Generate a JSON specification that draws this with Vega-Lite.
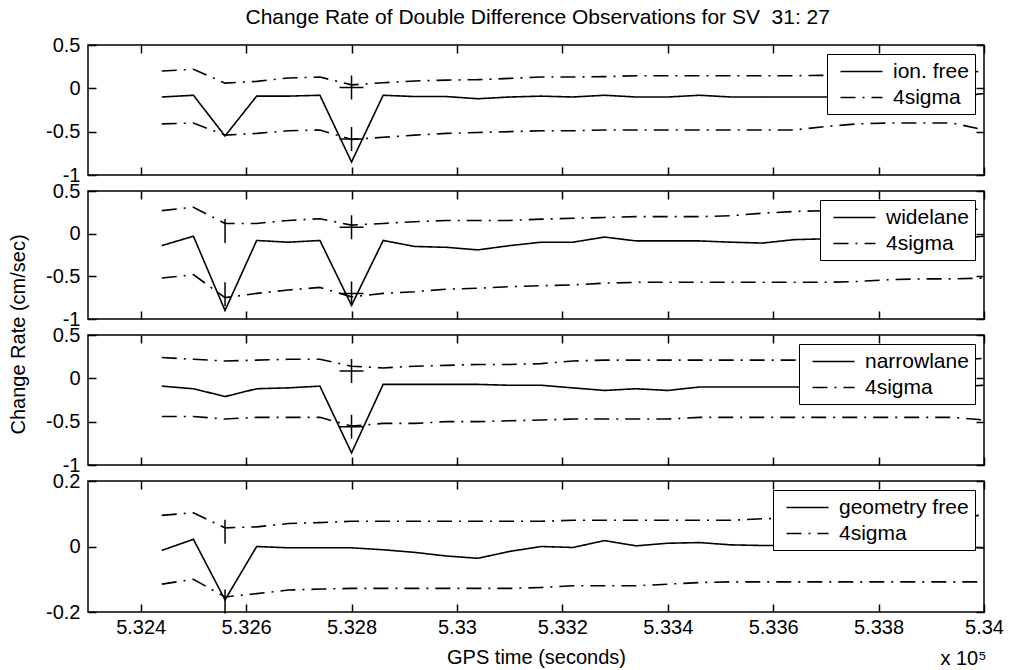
{
  "$schema": "https://vega.github.io/schema/vega-lite/v6.json",
  "background": "white",
  "padding": {"left": 7, "top": 7, "right": 5, "bottom": 2},
  "title": {"text": "Change Rate of Double Difference Observations for SV\u00a0 31: 27", "anchor": "middle", "fontSize": 21, "fontWeight": "normal", "font": "Liberation Sans", "color": "black", "offset": 6, "dx": 32},
  "bounds": "flush",
  "spacing": 16,
  "datasets": {
    "obs": [
      {"p":1,"t":532440,"m":-0.10,"u":0.20,"l":-0.41},
      {"p":1,"t":532500,"m":-0.08,"u":0.22,"l":-0.40},
      {"p":1,"t":532560,"m":-0.55,"u":0.06,"l":-0.54},
      {"p":1,"t":532620,"m":-0.09,"u":0.08,"l":-0.52},
      {"p":1,"t":532680,"m":-0.09,"u":0.12,"l":-0.49},
      {"p":1,"t":532740,"m":-0.08,"u":0.13,"l":-0.48},
      {"p":1,"t":532800,"m":-0.85,"u":0.04,"l":-0.59},
      {"p":1,"t":532860,"m":-0.08,"u":0.065,"l":-0.565},
      {"p":1,"t":532920,"m":-0.095,"u":0.085,"l":-0.54},
      {"p":1,"t":532980,"m":-0.095,"u":0.095,"l":-0.52},
      {"p":1,"t":533040,"m":-0.12,"u":0.10,"l":-0.51},
      {"p":1,"t":533100,"m":-0.10,"u":0.115,"l":-0.50},
      {"p":1,"t":533160,"m":-0.09,"u":0.13,"l":-0.49},
      {"p":1,"t":533220,"m":-0.10,"u":0.13,"l":-0.49},
      {"p":1,"t":533280,"m":-0.08,"u":0.135,"l":-0.48},
      {"p":1,"t":533340,"m":-0.10,"u":0.145,"l":-0.48},
      {"p":1,"t":533400,"m":-0.10,"u":0.145,"l":-0.48},
      {"p":1,"t":533460,"m":-0.08,"u":0.145,"l":-0.48},
      {"p":1,"t":533520,"m":-0.10,"u":0.145,"l":-0.48},
      {"p":1,"t":533580,"m":-0.10,"u":0.145,"l":-0.48},
      {"p":1,"t":533640,"m":-0.10,"u":0.145,"l":-0.48},
      {"p":1,"t":533700,"m":-0.10,"u":0.15,"l":-0.44},
      {"p":1,"t":533760,"m":-0.10,"u":0.16,"l":-0.41},
      {"p":1,"t":533820,"m":-0.10,"u":0.17,"l":-0.40},
      {"p":1,"t":533880,"m":-0.10,"u":0.17,"l":-0.40},
      {"p":1,"t":533940,"m":-0.10,"u":0.17,"l":-0.40},
      {"p":1,"t":534000,"m":-0.06,"u":0.20,"l":-0.48},
      {"p":2,"t":532440,"m":-0.14,"u":0.27,"l":-0.52},
      {"p":2,"t":532500,"m":-0.03,"u":0.31,"l":-0.48},
      {"p":2,"t":532560,"m":-0.90,"u":0.12,"l":-0.75},
      {"p":2,"t":532620,"m":-0.08,"u":0.12,"l":-0.70},
      {"p":2,"t":532680,"m":-0.10,"u":0.155,"l":-0.66},
      {"p":2,"t":532740,"m":-0.08,"u":0.175,"l":-0.63},
      {"p":2,"t":532800,"m":-0.84,"u":0.10,"l":-0.74},
      {"p":2,"t":532860,"m":-0.08,"u":0.12,"l":-0.70},
      {"p":2,"t":532920,"m":-0.15,"u":0.14,"l":-0.68},
      {"p":2,"t":532980,"m":-0.16,"u":0.155,"l":-0.65},
      {"p":2,"t":533040,"m":-0.19,"u":0.155,"l":-0.64},
      {"p":2,"t":533100,"m":-0.14,"u":0.155,"l":-0.62},
      {"p":2,"t":533160,"m":-0.10,"u":0.17,"l":-0.61},
      {"p":2,"t":533220,"m":-0.10,"u":0.18,"l":-0.60},
      {"p":2,"t":533280,"m":-0.04,"u":0.19,"l":-0.58},
      {"p":2,"t":533340,"m":-0.085,"u":0.20,"l":-0.57},
      {"p":2,"t":533400,"m":-0.085,"u":0.20,"l":-0.57},
      {"p":2,"t":533460,"m":-0.085,"u":0.20,"l":-0.57},
      {"p":2,"t":533520,"m":-0.10,"u":0.21,"l":-0.57},
      {"p":2,"t":533580,"m":-0.11,"u":0.24,"l":-0.57},
      {"p":2,"t":533640,"m":-0.07,"u":0.26,"l":-0.57},
      {"p":2,"t":533700,"m":-0.06,"u":0.27,"l":-0.57},
      {"p":2,"t":533760,"m":-0.06,"u":0.27,"l":-0.56},
      {"p":2,"t":533820,"m":-0.06,"u":0.27,"l":-0.54},
      {"p":2,"t":533880,"m":-0.06,"u":0.27,"l":-0.53},
      {"p":2,"t":533940,"m":-0.06,"u":0.27,"l":-0.53},
      {"p":2,"t":534000,"m":-0.03,"u":0.29,"l":-0.52},
      {"p":3,"t":532440,"m":-0.09,"u":0.24,"l":-0.44},
      {"p":3,"t":532500,"m":-0.12,"u":0.22,"l":-0.44},
      {"p":3,"t":532560,"m":-0.21,"u":0.20,"l":-0.47},
      {"p":3,"t":532620,"m":-0.12,"u":0.21,"l":-0.45},
      {"p":3,"t":532680,"m":-0.11,"u":0.22,"l":-0.45},
      {"p":3,"t":532740,"m":-0.09,"u":0.22,"l":-0.45},
      {"p":3,"t":532800,"m":-0.86,"u":0.14,"l":-0.55},
      {"p":3,"t":532860,"m":-0.07,"u":0.12,"l":-0.52},
      {"p":3,"t":532920,"m":-0.07,"u":0.14,"l":-0.52},
      {"p":3,"t":532980,"m":-0.07,"u":0.15,"l":-0.50},
      {"p":3,"t":533040,"m":-0.07,"u":0.16,"l":-0.50},
      {"p":3,"t":533100,"m":-0.08,"u":0.16,"l":-0.49},
      {"p":3,"t":533160,"m":-0.08,"u":0.17,"l":-0.48},
      {"p":3,"t":533220,"m":-0.11,"u":0.20,"l":-0.47},
      {"p":3,"t":533280,"m":-0.14,"u":0.21,"l":-0.47},
      {"p":3,"t":533340,"m":-0.12,"u":0.21,"l":-0.47},
      {"p":3,"t":533400,"m":-0.14,"u":0.21,"l":-0.47},
      {"p":3,"t":533460,"m":-0.10,"u":0.21,"l":-0.45},
      {"p":3,"t":533520,"m":-0.10,"u":0.21,"l":-0.45},
      {"p":3,"t":533580,"m":-0.10,"u":0.21,"l":-0.45},
      {"p":3,"t":533640,"m":-0.10,"u":0.21,"l":-0.45},
      {"p":3,"t":533700,"m":-0.10,"u":0.21,"l":-0.45},
      {"p":3,"t":533760,"m":-0.10,"u":0.21,"l":-0.45},
      {"p":3,"t":533820,"m":-0.10,"u":0.21,"l":-0.45},
      {"p":3,"t":533880,"m":-0.10,"u":0.21,"l":-0.45},
      {"p":3,"t":533940,"m":-0.10,"u":0.21,"l":-0.45},
      {"p":3,"t":534000,"m":-0.08,"u":0.23,"l":-0.48},
      {"p":4,"t":532440,"m":-0.012,"u":0.095,"l":-0.115},
      {"p":4,"t":532500,"m":0.022,"u":0.103,"l":-0.10},
      {"p":4,"t":532560,"m":-0.163,"u":0.057,"l":-0.154},
      {"p":4,"t":532620,"m":0.0,"u":0.06,"l":-0.144},
      {"p":4,"t":532680,"m":-0.004,"u":0.07,"l":-0.133},
      {"p":4,"t":532740,"m":-0.004,"u":0.073,"l":-0.13},
      {"p":4,"t":532800,"m":-0.004,"u":0.077,"l":-0.128},
      {"p":4,"t":532860,"m":-0.01,"u":0.077,"l":-0.128},
      {"p":4,"t":532920,"m":-0.018,"u":0.077,"l":-0.128},
      {"p":4,"t":532980,"m":-0.029,"u":0.077,"l":-0.128},
      {"p":4,"t":533040,"m":-0.036,"u":0.077,"l":-0.128},
      {"p":4,"t":533100,"m":-0.015,"u":0.077,"l":-0.128},
      {"p":4,"t":533160,"m":0.0,"u":0.077,"l":-0.125},
      {"p":4,"t":533220,"m":-0.003,"u":0.08,"l":-0.12},
      {"p":4,"t":533280,"m":0.018,"u":0.08,"l":-0.12},
      {"p":4,"t":533340,"m":0.002,"u":0.08,"l":-0.12},
      {"p":4,"t":533400,"m":0.01,"u":0.08,"l":-0.115},
      {"p":4,"t":533460,"m":0.012,"u":0.08,"l":-0.11},
      {"p":4,"t":533520,"m":0.005,"u":0.08,"l":-0.108},
      {"p":4,"t":533580,"m":0.003,"u":0.085,"l":-0.108},
      {"p":4,"t":533640,"m":0.003,"u":0.085,"l":-0.108},
      {"p":4,"t":533700,"m":0.003,"u":0.085,"l":-0.108},
      {"p":4,"t":533760,"m":0.003,"u":0.085,"l":-0.108},
      {"p":4,"t":533820,"m":0.003,"u":0.085,"l":-0.108},
      {"p":4,"t":533880,"m":0.003,"u":0.085,"l":-0.108},
      {"p":4,"t":533940,"m":0.003,"u":0.085,"l":-0.108},
      {"p":4,"t":534000,"m":-0.005,"u":0.097,"l":-0.108}
    ],
    "slips": [
      {"p":1,"t":532800,"v":0.01,"kind":"plus"},
      {"p":1,"t":532800,"v":-0.585,"kind":"plus"},
      {"p":2,"t":532560,"v":0.03,"kind":"vbar"},
      {"p":2,"t":532560,"v":-0.71,"kind":"vbar"},
      {"p":2,"t":532800,"v":0.075,"kind":"plus"},
      {"p":2,"t":532800,"v":-0.70,"kind":"plus"},
      {"p":3,"t":532800,"v":0.085,"kind":"plus"},
      {"p":3,"t":532800,"v":-0.56,"kind":"plus"},
      {"p":4,"t":532560,"v":0.045,"kind":"vbar"},
      {"p":4,"t":532560,"v":-0.168,"kind":"vbar"}
    ]
  },
  "vconcat": [
    {
      "width": 896, "height": 130,
      "layer": [
        {
          "data": {"name": "obs"},
          "transform": [{"filter": "datum.p == 1"}, {"fold": ["m","u","l"], "as": ["band","value"]}],
          "mark": {"type": "line", "color": "black", "strokeWidth": 1.6, "clip": true},
          "encoding": {
            "x": {"field": "t", "type": "quantitative", "scale": {"domain": [532300, 534000], "nice": false, "zero": false}, "axis": {"orient": "bottom", "values": [532400,532600,532800,533000,533200,533400,533600,533800,534000], "labels": false, "title": null}},
            "y": {"field": "value", "type": "quantitative", "scale": {"domain": [-1, 0.5], "nice": false, "zero": false}, "axis": {"orient": "left", "values": [-1,-0.5,0,0.5], "labelExpr": "datum.value + ''", "title": null}},
            "strokeDash": {"field": "band", "type": "nominal", "scale": {"domain": ["m","u","l"], "range": [[1,0],[15,7,2,7],[15,7,2,7]]}, "legend": {"values": ["m","u"], "title": null, "labelExpr": "datum.label == 'm' ? 'ion. free' : '4sigma'"}}
          }
        },
        {
          "data": {"name": "slips"},
          "transform": [{"filter": "datum.p == 1"}],
          "mark": {"type": "point", "filled": false, "color": "black", "strokeWidth": 1.5, "size": 576, "opacity": 1},
          "encoding": {
            "x": {"field": "t", "type": "quantitative", "scale": {"domain": [532300, 534000], "nice": false, "zero": false}, "axis": {"orient": "top", "values": [532400,532600,532800,533000,533200,533400,533600,533800,534000], "labels": false, "title": null}},
            "y": {"field": "v", "type": "quantitative", "scale": {"domain": [-1, 0.5], "nice": false, "zero": false}, "axis": {"orient": "right", "values": [-1,-0.5,0,0.5], "labels": false, "title": null}},
            "shape": {"field": "kind", "type": "nominal", "scale": {"domain": ["plus","vbar"], "range": ["M0,-1V1M-1,0H1","M0,-1V1"]}, "legend": null}
          }
        }
      ],
      "resolve": {"axis": {"x": "independent", "y": "independent"}}
    },
    {
      "width": 896, "height": 128,
      "layer": [
        {
          "data": {"name": "obs"},
          "transform": [{"filter": "datum.p == 2"}, {"fold": ["m","u","l"], "as": ["band","value"]}],
          "mark": {"type": "line", "color": "black", "strokeWidth": 1.6, "clip": true},
          "encoding": {
            "x": {"field": "t", "type": "quantitative", "scale": {"domain": [532300, 534000], "nice": false, "zero": false}, "axis": {"orient": "bottom", "values": [532400,532600,532800,533000,533200,533400,533600,533800,534000], "labels": false, "title": null}},
            "y": {"field": "value", "type": "quantitative", "scale": {"domain": [-1, 0.5], "nice": false, "zero": false}, "axis": {"orient": "left", "values": [-1,-0.5,0,0.5], "labelExpr": "datum.value + ''", "title": null}},
            "strokeDash": {"field": "band", "type": "nominal", "scale": {"domain": ["m","u","l"], "range": [[1,0],[15,7,2,7],[15,7,2,7]]}, "legend": {"values": ["m","u"], "title": null, "labelExpr": "datum.label == 'm' ? 'widelane' : '4sigma'"}}
          }
        },
        {
          "data": {"name": "slips"},
          "transform": [{"filter": "datum.p == 2"}],
          "mark": {"type": "point", "filled": false, "color": "black", "strokeWidth": 1.5, "size": 576, "opacity": 1},
          "encoding": {
            "x": {"field": "t", "type": "quantitative", "scale": {"domain": [532300, 534000], "nice": false, "zero": false}, "axis": {"orient": "top", "values": [532400,532600,532800,533000,533200,533400,533600,533800,534000], "labels": false, "title": null}},
            "y": {"field": "v", "type": "quantitative", "scale": {"domain": [-1, 0.5], "nice": false, "zero": false}, "axis": {"orient": "right", "values": [-1,-0.5,0,0.5], "labels": false, "title": null}},
            "shape": {"field": "kind", "type": "nominal", "scale": {"domain": ["plus","vbar"], "range": ["M0,-1V1M-1,0H1","M0,-1V1"]}, "legend": null}
          }
        }
      ],
      "resolve": {"axis": {"x": "independent", "y": "independent"}}
    },
    {
      "width": 896, "height": 130,
      "layer": [
        {
          "data": {"name": "obs"},
          "transform": [{"filter": "datum.p == 3"}, {"fold": ["m","u","l"], "as": ["band","value"]}],
          "mark": {"type": "line", "color": "black", "strokeWidth": 1.6, "clip": true},
          "encoding": {
            "x": {"field": "t", "type": "quantitative", "scale": {"domain": [532300, 534000], "nice": false, "zero": false}, "axis": {"orient": "bottom", "values": [532400,532600,532800,533000,533200,533400,533600,533800,534000], "labels": false, "title": null}},
            "y": {"field": "value", "type": "quantitative", "scale": {"domain": [-1, 0.5], "nice": false, "zero": false}, "axis": {"orient": "left", "values": [-1,-0.5,0,0.5], "labelExpr": "datum.value + ''", "title": "Change Rate (cm/sec)", "titleX": -70, "titleY": -1, "titleAlign": "center", "titleBaseline": "middle", "titleAngle": -90}},
            "strokeDash": {"field": "band", "type": "nominal", "scale": {"domain": ["m","u","l"], "range": [[1,0],[15,7,2,7],[15,7,2,7]]}, "legend": {"values": ["m","u"], "title": null, "labelExpr": "datum.label == 'm' ? 'narrowlane' : '4sigma'"}}
          }
        },
        {
          "data": {"name": "slips"},
          "transform": [{"filter": "datum.p == 3"}],
          "mark": {"type": "point", "filled": false, "color": "black", "strokeWidth": 1.5, "size": 576, "opacity": 1},
          "encoding": {
            "x": {"field": "t", "type": "quantitative", "scale": {"domain": [532300, 534000], "nice": false, "zero": false}, "axis": {"orient": "top", "values": [532400,532600,532800,533000,533200,533400,533600,533800,534000], "labels": false, "title": null}},
            "y": {"field": "v", "type": "quantitative", "scale": {"domain": [-1, 0.5], "nice": false, "zero": false}, "axis": {"orient": "right", "values": [-1,-0.5,0,0.5], "labels": false, "title": null}},
            "shape": {"field": "kind", "type": "nominal", "scale": {"domain": ["plus","vbar"], "range": ["M0,-1V1M-1,0H1","M0,-1V1"]}, "legend": null}
          }
        }
      ],
      "resolve": {"axis": {"x": "independent", "y": "independent"}}
    },
    {
      "width": 896, "height": 131,
      "layer": [
        {
          "data": {"name": "obs"},
          "transform": [{"filter": "datum.p == 4"}, {"fold": ["m","u","l"], "as": ["band","value"]}],
          "mark": {"type": "line", "color": "black", "strokeWidth": 1.6, "clip": true},
          "encoding": {
            "x": {"field": "t", "type": "quantitative", "scale": {"domain": [532300, 534000], "nice": false, "zero": false}, "axis": {"orient": "bottom", "values": [532400,532600,532800,533000,533200,533400,533600,533800,534000], "labelExpr": "format(datum.value / 100000, '.4~f')", "labelFlush": false, "labelPadding": 13, "titlePadding": 10, "title": "GPS time (seconds)"}},
            "y": {"field": "value", "type": "quantitative", "scale": {"domain": [-0.2, 0.2], "nice": false, "zero": false}, "axis": {"orient": "left", "values": [-0.2,0,0.2], "labelExpr": "datum.value + ''", "title": null}},
            "strokeDash": {"field": "band", "type": "nominal", "scale": {"domain": ["m","u","l"], "range": [[1,0],[15,7,2,7],[15,7,2,7]]}, "legend": {"values": ["m","u"], "title": null, "labelExpr": "datum.label == 'm' ? 'geometry free' : '4sigma'"}}
          }
        },
        {
          "data": {"name": "slips"},
          "transform": [{"filter": "datum.p == 4"}],
          "mark": {"type": "point", "filled": false, "color": "black", "strokeWidth": 1.5, "size": 576, "opacity": 1},
          "encoding": {
            "x": {"field": "t", "type": "quantitative", "scale": {"domain": [532300, 534000], "nice": false, "zero": false}, "axis": {"orient": "top", "values": [532400,532600,532800,533000,533200,533400,533600,533800,534000], "labels": false, "title": "x 10⁵", "titleX": 898, "titleY": 177, "titleAlign": "right", "titleBaseline": "middle", "titleAngle": 0}},
            "y": {"field": "v", "type": "quantitative", "scale": {"domain": [-0.2, 0.2], "nice": false, "zero": false}, "axis": {"orient": "right", "values": [-0.2,0,0.2], "labels": false, "title": null}},
            "shape": {"field": "kind", "type": "nominal", "scale": {"domain": ["plus","vbar"], "range": ["M0,-1V1M-1,0H1","M0,-1V1"]}, "legend": null}
          }
        }
      ],
      "resolve": {"axis": {"x": "independent", "y": "independent"}}
    }
  ],
  "resolve": {"scale": {"x": "independent", "y": "independent", "strokeDash": "independent", "shape": "independent"}, "legend": {"strokeDash": "independent"}},
  "config": {
    "font": "Liberation Sans",
    "view": {"stroke": "black", "strokeWidth": 1.5},
    "axis": {"domain": false, "grid": false, "tickColor": "black", "tickSize": -8, "tickWidth": 1.5, "labelColor": "black", "labelFontSize": 20, "labelFont": "Liberation Sans", "titleFontSize": 20, "titleFont": "Liberation Sans", "titleFontWeight": "normal", "titleColor": "black", "labelPadding": 16, "titlePadding": 4},
    "legend": {"orient": "top-right", "offset": 9, "strokeColor": "black", "fillColor": "white", "padding": 6, "symbolType": "M-2,0H2", "symbolSize": 441, "symbolStrokeWidth": 1.5, "symbolStrokeColor": "black", "symbolFillColor": "transparent", "symbolOffset": 17, "labelOffset": 20, "labelFontSize": 21, "labelFont": "Liberation Sans", "labelColor": "black", "rowPadding": 4, "labelLimit": 400}
  }
}
